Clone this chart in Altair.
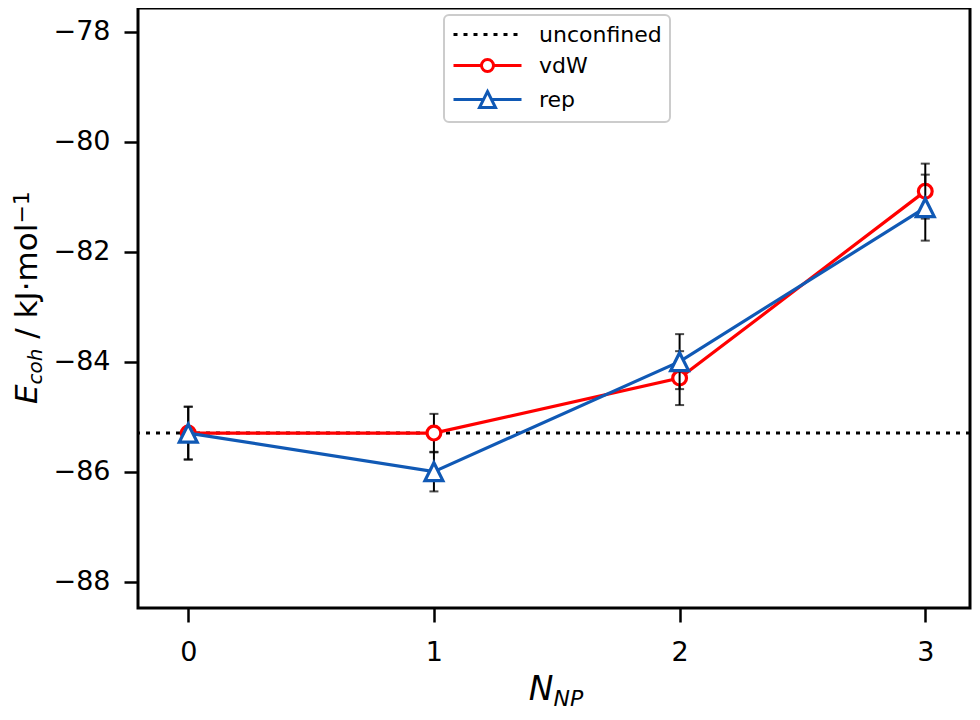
import altair as alt
import pandas as pd

# ---------------- data ----------------
n_np = [0, 1, 2, 3]
vdw_e = [-85.3, -85.3, -84.3, -80.9]
vdw_err = [0.48, 0.35, 0.49, 0.50]
rep_e = [-85.3, -86.0, -84.0, -81.2]
rep_err = [0.48, 0.36, 0.50, 0.60]
unconfined_e = [-85.3]

series_names = ["unconfined", "vdW", "rep"]
series_colors = ["#000000", "#ff0000", "#1059b5"]
x_ticks = [0, 1, 2, 3]
y_ticks = [-88, -86, -84, -82, -80, -78]

# axis title pieces (mathtext-like)
ytitle_parts = ["E", "coh", " / kJ·mol", "−1"]
xtitle_parts = ["N", "NP"]

# ---------------- layout constants ----------------
PAD_L, PAD_T = 130, 0
W, H = 832, 600
FONT = "DejaVu Sans"

# DejaVu advance widths (em)
ADV = {"E": .632, "c": .550, "o": .612, "h": .634, " ": .318, "/": .337,
       "k": .579, "J": .295, "·": .318, "m": .974, "l": .278, "−": .838,
       "1": .636, "N": .748, "P": .603}


def adv(s, size):
    return sum(ADV[ch] for ch in s) * size


def frame(name, e, err):
    return pd.DataFrame({
        "series": name,
        "n": n_np,
        "e": e,
        "lo": [a - b for a, b in zip(e, err)],
        "hi": [a + b for a, b in zip(e, err)],
    })


vdw_df = frame("vdW", vdw_e, vdw_err)
rep_df = frame("rep", rep_e, rep_err)

xscale = alt.Scale(domain=[-0.2045, 3.182], nice=False, zero=False)
yscale = alt.Scale(domain=[-88.48, -77.57], nice=False, zero=False)
minus_expr = "replace(datum.label, '-', '\u2212')"
xaxis = alt.Axis(values=x_ticks, format="d", title=None, labelPadding=17)
yaxis = alt.Axis(values=y_ticks, format="d", title=None, labelExpr=minus_expr,
                 labelPadding=14)

X = alt.X("n:Q", scale=xscale, axis=xaxis, title=None)


def Y(field):
    return alt.Y(field, scale=yscale, axis=yaxis, title=None)


layers = []

# unconfined reference line (dotted)
unc = alt.Chart(pd.DataFrame({"e": unconfined_e})).mark_rule(
    color="black", strokeWidth=3, strokeDash=[4, 6]
).encode(y=Y("e:Q"))
layers.append(unc)

tri_path = "M0,-1L1,1L-1,1Z"

for df, color, shape, size in [
    (vdw_df, series_colors[1], "circle", 190),
    (rep_df, series_colors[2], tri_path, 320),
]:
    base = alt.Chart(df)
    err_rule = base.mark_rule(color="black", strokeWidth=2).encode(
        x=X, y=Y("lo:Q"), y2="hi:Q"
    )
    caps = base.transform_fold(["lo", "hi"], as_=["k", "v"]).mark_tick(
        color="black", orient="horizontal", size=9, thickness=2
    ).encode(x=X, y=Y("v:Q"))
    line = base.mark_line(color=color, strokeWidth=3.2).encode(x=X, y=Y("e:Q"))
    pts = base.mark_point(
        shape=shape, size=size, filled=True, fill="white", stroke=color,
        strokeWidth=3.2, opacity=1
    ).encode(x=X, y=Y("e:Q"))
    layers += [err_rule, caps, line, pts]

# legend (custom symbols: line + marker) via a data-free layer
legend_paths = [
    "M-1,0H-0.6M0,0H0.4M1,0H1.4M2,0H2.4M3,0H3.4M4,0H4.4M5,0H5.4",
    "M-1,0H1.8M3,0H5.8M1.8,0A0.6,0.6 0 1,1 3,0A0.6,0.6 0 1,1 1.8,0",
    "M-1,0H2M2.8,0H5.8M2.4,-0.8L3.2,0.8L1.6,0.8Z",
]
leg = alt.Legend(
    orient="none", legendX=306, legendY=7, title=None,
    labelFont=FONT, labelFontSize=22, labelColor="black",
    symbolSize=400, symbolStrokeWidth=3, labelOffset=64,
    padding=8, rowPadding=7, strokeColor="#cccccc", fillColor="white",
    cornerRadius=5,
)
legend_layer = alt.Chart(pd.DataFrame({"series": series_names})).transform_filter(
    "false"
).mark_point(filled=False, strokeWidth=3, opacity=1).encode(
    color=alt.Color("series:N", scale=alt.Scale(domain=series_names, range=series_colors), legend=leg),
    shape=alt.Shape("series:N", scale=alt.Scale(domain=series_names, range=legend_paths), legend=leg),
)
layers.append(legend_layer)

# y-axis title pieces (rotated), page coords -> plot coords
F_MAIN, F_SUB, F_SUP = 31, 20, 22
y_start = 404
xb = 37
pieces = [
    (ytitle_parts[0], F_MAIN, "italic", xb),
    (ytitle_parts[1], F_SUB, "italic", xb + 5),
    (ytitle_parts[2], F_MAIN, "normal", xb),
    (ytitle_parts[3], F_SUP, "normal", xb - 8),
]
ypos = y_start
for txt, fs, style, bx in pieces:
    lead = len(txt) - len(txt.lstrip(" "))
    ypos -= adv(" " * lead, fs)
    body = txt.lstrip(" ")
    t = alt.Chart(pd.DataFrame({"t": [body]})).mark_text(
        font=FONT, fontSize=fs, fontStyle=style, angle=270, align="left",
        baseline="alphabetic", color="black"
    ).encode(text="t:N", x=alt.value(bx - 8 - PAD_L), y=alt.value(ypos - 8 - PAD_T))
    layers.append(t)
    ypos -= adv(body, fs)

# x-axis title
FX_MAIN, FX_SUB = 33, 22
total = adv(xtitle_parts[0], FX_MAIN) + adv(xtitle_parts[1], FX_SUB)
xstart = 556 - total / 2
for txt, fs, base_y in [(xtitle_parts[0], FX_MAIN, 700), (xtitle_parts[1], FX_SUB, 706)]:
    t = alt.Chart(pd.DataFrame({"t": [txt]})).mark_text(
        font=FONT, fontSize=fs, fontStyle="italic", align="left",
        baseline="alphabetic", color="black"
    ).encode(text="t:N", x=alt.value(xstart - 8 - PAD_L), y=alt.value(base_y - 8 - PAD_T))
    layers.append(t)
    xstart += adv(txt, fs)

chart = alt.layer(*layers).properties(
    width=W, height=H, autosize="none",
    padding={"left": PAD_L, "top": PAD_T, "right": 2, "bottom": 104},
).configure_view(
    stroke="black", strokeWidth=3
).configure_axis(
    labelFont=FONT, labelFontSize=27, labelColor="black", tickColor="black",
    tickWidth=2.5, tickSize=14, domain=False, grid=False,
).configure_legend(
    strokeWidth=2
)

chart.save("out.html", embed_options={"renderer": "svg", "actions": False})
